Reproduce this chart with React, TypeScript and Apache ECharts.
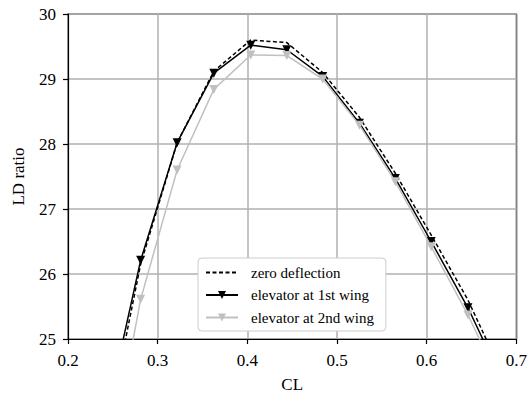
import React, { useEffect, useRef } from "react";
import * as echarts from "echarts";

// CL values (x) shared by all series; first and last points lie outside the visible axes and are clipped
const cl = [0.2405, 0.281, 0.3217, 0.3626, 0.4038, 0.444, 0.484, 0.525, 0.565, 0.605, 0.646, 0.6865];
const zeroDeflection = [23.38, 26.15, 28.02, 29.12, 29.6, 29.56, 29.1, 28.41, 27.55, 26.6, 25.6, 24.4];
const elevator1st = [23.68, 26.21, 28.02, 29.09, 29.52, 29.45, 29.04, 28.32, 27.47, 26.5, 25.48, 24.3];
const elevator2nd = [22.63, 25.61, 27.6, 28.84, 29.37, 29.36, 29.0, 28.29, 27.42, 26.42, 25.37, 24.2];
const xTicks = [0.2, 0.3, 0.4, 0.5, 0.6, 0.7];
const yTicks = [25, 26, 27, 28, 29, 30];
const seriesNames = ["zero deflection", "elevator at 1st wing", "elevator at 2nd wing"];

const pair = (ys: number[]) => cl.map((x, i) => [x, ys[i]]);

export default function App() {
  const ref = useRef<HTMLDivElement>(null);
  useEffect(() => {
    if (!ref.current) return;
    const chart = echarts.init(ref.current, null, { renderer: "svg" });
    const font = "Liberation Serif";
    chart.setOption({
      animation: false,
      backgroundColor: "#ffffff",
      textStyle: { fontFamily: font },
      grid: {
        left: 68, right: 13, top: 14, bottom: 62,
        show: true, borderColor: "#000", borderWidth: 1.2, backgroundColor: "transparent",
      },
      legend: {
        orient: "vertical",
        left: 198,
        top: 258,
        data: [
          { name: seriesNames[0], itemStyle: { opacity: 0 } },
          { name: seriesNames[1] },
          { name: seriesNames[2] },
        ],
        itemWidth: 32,
        itemHeight: 10,
        itemGap: 7.5,
        padding: [7, 12, 6, 7],
        backgroundColor: "#fff",
        borderColor: "#cccccc",
        borderWidth: 1,
        borderRadius: 4,
        formatter: (n: string) => "{l|" + n + "}",
        textStyle: {
          fontFamily: font,
          fontSize: 15,
          color: "#000",
          rich: { l: { fontFamily: font, fontSize: 15, color: "#000", padding: [0, 0, 0, 8] } },
        },
      },
      xAxis: {
        type: "value", min: 0.2, max: 0.7, interval: 0.1,
        name: "CL", nameLocation: "middle", nameGap: 37,
        nameTextStyle: { fontFamily: font, fontSize: 17, color: "#000" },
        axisLine: { show: true, lineStyle: { color: "#000", width: 1.2 } },
        axisTick: { show: true, inside: false, length: 5, lineStyle: { color: "#000", width: 1.2 } },
        axisLabel: {
          fontFamily: font, fontSize: 17, color: "#000", margin: 13,
          formatter: (v: number) => {
            const t = xTicks.find((k) => Math.abs(k - v) < 1e-6);
            return t !== undefined ? t.toFixed(1) : "";
          },
        },
        splitLine: { show: true, lineStyle: { color: "#b0b0b0", width: 1.5 } },
      },
      yAxis: {
        type: "value", min: 25, max: 30, interval: 1,
        name: "LD ratio", nameLocation: "middle", nameGap: 41,
        nameTextStyle: { fontFamily: font, fontSize: 17, color: "#000" },
        axisLine: { show: true, lineStyle: { color: "#000", width: 1.2 } },
        axisTick: { show: true, inside: false, length: 5, lineStyle: { color: "#000", width: 1.2 } },
        axisLabel: {
          fontFamily: font, fontSize: 17, color: "#000", margin: 12,
          formatter: (v: number) => {
            const t = yTicks.find((k) => Math.abs(k - v) < 1e-6);
            return t !== undefined ? String(t) : "";
          },
        },
        splitLine: { show: true, lineStyle: { color: "#b0b0b0", width: 1.5 } },
      },
      series: [
        {
          name: seriesNames[0], type: "line", data: pair(zeroDeflection), symbol: "none", clip: true,
          lineStyle: { color: "#000", width: 1.5, type: [4, 2.5] }, itemStyle: { color: "#000" }, z: 3,
        },
        {
          name: seriesNames[1], type: "line", data: pair(elevator1st), symbol: "triangle", symbolRotate: 180,
          symbolSize: [9, 9], showAllSymbol: true, clip: true,
          lineStyle: { color: "#000", width: 1.5 }, itemStyle: { color: "#000" }, z: 4,
        },
        {
          name: seriesNames[2], type: "line", data: pair(elevator2nd), symbol: "triangle", symbolRotate: 180,
          symbolSize: [9, 9], showAllSymbol: true, clip: true,
          lineStyle: { color: "#c0c0c0", width: 1.5 }, itemStyle: { color: "#c0c0c0" }, z: 5,
        },
      ],
    });
    return () => chart.dispose();
  }, []);
  return (
    <div ref={ref} style={{ position: "absolute", left: 0, top: 0, width: 530, height: 401 }} />
  );
}
